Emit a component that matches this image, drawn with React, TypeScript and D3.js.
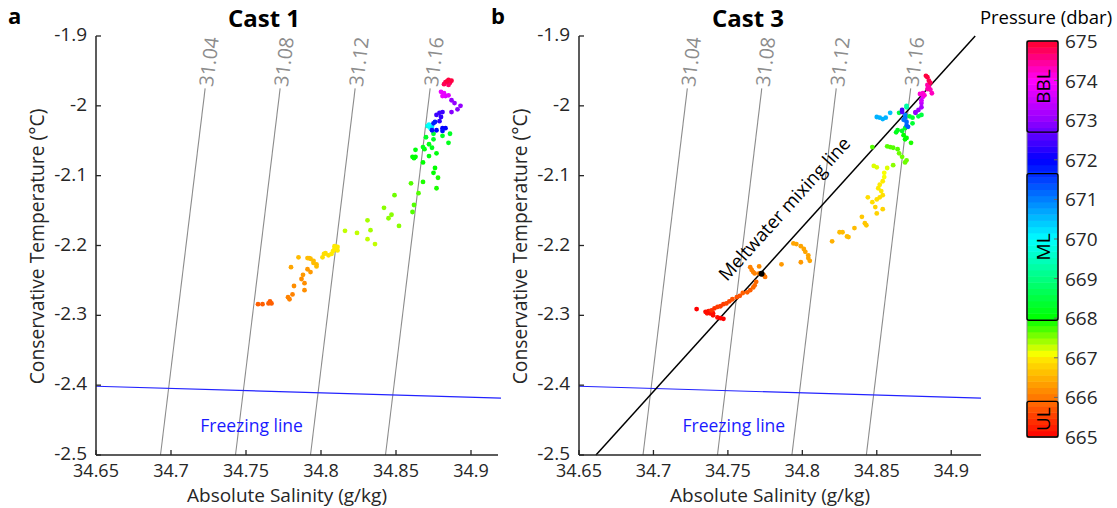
import React from "react";
import * as d3 from "d3";

// axis ticks
const SA_TICKS = [34.65, 34.7, 34.75, 34.8, 34.85, 34.9];
const CT_TICKS = [-1.9, -2, -2.1, -2.2, -2.3, -2.4, -2.5];
const PRESSURE_TICKS = [665, 666, 667, 668, 669, 670, 671, 672, 673, 674, 675];

// isopycnals (sigma labels, SA where each meets -2.5 degC, slope in g/kg per degC)
const SIGMA_LABELS = ["31.04", "31.08", "31.12", "31.16"];
const SIGMA_BASE_SA = [34.693, 34.743, 34.793, 34.843];
const SIGMA_SLOPE = 0.0567;
const SIGMA_TOP_CT = -1.975;

const FREEZING_LINE: [number, number][] = [[34.65, -2.4015], [34.92, -2.4185]];
const MIXING_LINE: [number, number][] = [[34.6614, -2.5], [34.9167, -1.8986]];
const MIXING_POINT: [number, number] = [34.7726, -2.2406];

const LAYERS = [
  { name: "BBL", from: 672.7, to: 675 },
  { name: "ML", from: 667.95, to: 671.65 },
  { name: "UL", from: 665, to: 665.9 },
];

// [SA, CT, pressure]
const CAST1: number[][] = [
  [34.758, -2.284, 665.8], [34.761, -2.284, 665.8], [34.765, -2.283, 665.8], [34.766, -2.28, 665.8], [34.767, -2.283, 665.8],
  [34.778, -2.274, 666.1], [34.779, -2.277, 666.1], [34.781, -2.27, 666.1], [34.782, -2.258, 666.2], [34.787, -2.248, 666.2],
  [34.788, -2.242, 666.3], [34.789, -2.254, 666.2], [34.789, -2.264, 666.2], [34.791, -2.234, 666.3], [34.793, -2.238, 666.3],
  [34.78, -2.231, 666.4],
  [34.785, -2.217, 666.6], [34.791, -2.218, 666.6], [34.792, -2.218, 666.6], [34.793, -2.219, 666.6], [34.795, -2.222, 666.6],
  [34.795, -2.225, 666.6], [34.797, -2.227, 666.6], [34.797, -2.23, 666.6],
  [34.801, -2.217, 666.9], [34.802, -2.212, 666.9], [34.803, -2.211, 666.9], [34.805, -2.214, 666.9], [34.807, -2.212, 667.0],
  [34.808, -2.208, 667.0], [34.809, -2.201, 667.0], [34.81, -2.202, 667.0], [34.811, -2.202, 667.0], [34.811, -2.207, 667.0],
  [34.809, -2.205, 667.0],
  [34.816, -2.179, 667.3], [34.824, -2.182, 667.3], [34.831, -2.191, 667.3], [34.831, -2.164, 667.4], [34.833, -2.178, 667.4],
  [34.836, -2.198, 667.3], [34.842, -2.146, 667.5], [34.845, -2.161, 667.5], [34.847, -2.156, 667.5], [34.849, -2.128, 667.6],
  [34.852, -2.172, 667.5], [34.862, -2.142, 667.7], [34.861, -2.152, 667.7], [34.86, -2.111, 667.7], [34.865, -2.125, 667.7],
  [34.868, -2.109, 667.9], [34.877, -2.118, 667.9], [34.878, -2.103, 667.9], [34.875, -2.096, 668.0], [34.876, -2.089, 668.0],
  [34.868, -2.081, 668.0], [34.872, -2.072, 668.1], [34.877, -2.068, 668.1], [34.861, -2.073, 668.0], [34.862, -2.075, 668.0],
  [34.863, -2.073, 668.0], [34.863, -2.063, 668.1], [34.869, -2.062, 668.1], [34.874, -2.06, 668.2], [34.872, -2.055, 668.2],
  [34.868, -2.059, 668.2], [34.885, -2.053, 668.2], [34.875, -2.048, 668.3], [34.87, -2.045, 668.3], [34.875, -2.04, 668.4],
  [34.881, -2.043, 668.3], [34.886, -2.04, 668.3],
  [34.871, -2.029, 669.8], [34.873, -2.032, 670.0], [34.874, -2.03, 670.2], [34.872, -2.027, 670.0],
  [34.875, -2.025, 671.8], [34.876, -2.023, 671.8], [34.874, -2.035, 671.9], [34.877, -2.035, 672.0], [34.881, -2.032, 672.0],
  [34.883, -2.032, 672.0], [34.881, -2.036, 671.9],
  [34.877, -2.013, 672.4], [34.879, -2.01, 672.4], [34.881, -2.009, 672.4], [34.88, -2.016, 672.3], [34.879, -2.022, 672.3],
  [34.887, -1.992, 673.0], [34.889, -1.996, 673.0], [34.893, -2.0, 673.0], [34.891, -2.005, 672.9], [34.887, -2.009, 672.9],
  [34.88, -1.98, 673.8], [34.882, -1.982, 673.8], [34.883, -1.986, 673.7], [34.885, -1.985, 673.7], [34.881, -1.986, 673.8],
  [34.883, -1.966, 674.8], [34.885, -1.963, 674.9], [34.886, -1.967, 674.8], [34.882, -1.969, 674.8], [34.885, -1.97, 674.7],
  [34.884, -1.965, 674.9], [34.887, -1.964, 674.9],
];

const CAST3: number[][] = [
  [34.729, -2.291, 665.0], [34.737, -2.294, 665.2], [34.736, -2.297, 665.2], [34.735, -2.295, 665.1], [34.738, -2.297, 665.1],
  [34.74, -2.3, 665.1], [34.74, -2.297, 665.1], [34.743, -2.303, 665.1], [34.745, -2.304, 665.0], [34.747, -2.305, 665.0],
  [34.739, -2.293, 665.4], [34.741, -2.29, 665.4], [34.743, -2.288, 665.5], [34.745, -2.287, 665.5], [34.747, -2.284, 665.5],
  [34.749, -2.283, 665.6], [34.751, -2.28, 665.6], [34.753, -2.277, 665.7], [34.756, -2.274, 665.7], [34.758, -2.272, 665.7],
  [34.76, -2.268, 665.8], [34.763, -2.267, 665.8], [34.765, -2.264, 665.8], [34.767, -2.26, 665.9], [34.768, -2.257, 665.9],
  [34.769, -2.252, 665.9],
  [34.765, -2.231, 666.1], [34.766, -2.235, 666.1], [34.767, -2.238, 666.1], [34.771, -2.23, 666.2], [34.768, -2.24, 666.1],
  [34.771, -2.24, 666.1], [34.774, -2.242, 666.0], [34.775, -2.245, 666.0],
  [34.786, -2.227, 666.3], [34.799, -2.224, 666.3],
  [34.794, -2.197, 666.4], [34.796, -2.198, 666.4], [34.799, -2.201, 666.4], [34.801, -2.205, 666.4], [34.802, -2.209, 666.4],
  [34.804, -2.214, 666.4], [34.804, -2.218, 666.4], [34.805, -2.222, 666.4],
  [34.82, -2.194, 666.5], [34.825, -2.181, 666.6], [34.827, -2.181, 666.6], [34.83, -2.187, 666.6], [34.831, -2.188, 666.6],
  [34.835, -2.175, 666.6], [34.84, -2.159, 666.7], [34.842, -2.168, 666.7], [34.843, -2.171, 666.7],
  [34.844, -2.131, 666.9], [34.849, -2.145, 666.8], [34.854, -2.148, 666.8], [34.85, -2.154, 666.8], [34.847, -2.138, 666.9],
  [34.85, -2.134, 666.9], [34.852, -2.131, 666.9], [34.854, -2.128, 666.9], [34.853, -2.122, 667.0], [34.851, -2.118, 667.0],
  [34.852, -2.113, 667.0], [34.854, -2.108, 667.0], [34.855, -2.102, 667.1], [34.855, -2.096, 667.1], [34.857, -2.089, 667.2],
  [34.85, -2.088, 667.2], [34.848, -2.086, 667.2],
  [34.861, -2.085, 667.5], [34.869, -2.081, 667.6], [34.87, -2.078, 667.6], [34.867, -2.073, 667.6], [34.865, -2.068, 667.6],
  [34.864, -2.062, 667.7], [34.861, -2.06, 667.7], [34.859, -2.059, 667.7], [34.857, -2.058, 667.7], [34.847, -2.059, 667.7],
  [34.873, -2.053, 667.9], [34.87, -2.046, 668.0], [34.869, -2.048, 668.0], [34.868, -2.042, 668.0], [34.874, -2.025, 668.4],
  [34.869, -2.032, 668.3], [34.867, -2.036, 668.3], [34.863, -2.038, 668.2], [34.864, -2.035, 668.2], [34.88, -2.013, 668.5],
  [34.878, -2.015, 668.5], [34.874, -2.017, 668.4], [34.872, -2.015, 668.4], [34.865, -2.01, 668.5],
  [34.85, -2.016, 670.6], [34.852, -2.017, 670.6], [34.854, -2.019, 670.6], [34.856, -2.017, 670.6], [34.859, -2.01, 670.5],
  [34.869, -2.013, 671.0], [34.869, -2.017, 671.1], [34.868, -2.02, 671.1], [34.87, -2.023, 671.2], [34.87, -2.028, 671.2],
  [34.871, -2.03, 671.3],
  [34.867, -2.009, 672.6], [34.867, -2.006, 672.5],
  [34.876, -2.01, 672.9], [34.876, -2.009, 673.0], [34.878, -2.006, 673.1], [34.88, -2.002, 673.2], [34.88, -1.996, 673.4],
  [34.88, -1.992, 673.6], [34.881, -1.987, 673.8],
  [34.87, -2.002, 669.3], [34.87, -2.0, 669.3],
  [34.879, -1.983, 674.2], [34.881, -1.982, 674.2], [34.882, -1.985, 674.2], [34.886, -1.977, 674.3], [34.887, -1.982, 674.3],
  [34.884, -1.97, 674.4], [34.885, -1.973, 674.4], [34.884, -1.976, 674.4],
  [34.883, -1.957, 674.9], [34.884, -1.959, 674.9], [34.885, -1.964, 674.8], [34.886, -1.967, 674.8],
];

const FONT = "'Open Sans', sans-serif";
const TEXT = "#262626";
const Y_RANGE: [number, number] = [455, 36];

const hue = d3
  .scaleLinear()
  .domain([665, 666, 667, 668, 670, 672, 673, 674, 675])
  .range([0, 28, 55, 120, 180, 240, 275, 300, 350])
  .clamp(true);
const pressureColor = (p: number) => d3.hsl(hue(p), 1, 0.5).formatHex();

const fmt = (v: number) => String(v);

type PanelProps = {
  letter: string;
  title: string;
  data: number[][];
  left: number;
  right: number;
  saMax: number;
  titleX: number;
  mixing: boolean;
};

function Panel({ letter, title, data, left, right, saMax, titleX, mixing }: PanelProps) {
  const x = d3.scaleLinear().domain([34.65, saMax]).range([left, right]);
  const y = d3.scaleLinear().domain([-2.5, -1.9]).range(Y_RANGE);
  const bottom = Y_RANGE[0];
  const top = Y_RANGE[1];
  const mid = (left + right) / 2;

  const line = d3
    .line<[number, number]>()
    .x((d) => x(d[0]))
    .y((d) => y(d[1]));

  // clip the mixing line to the axes
  const [m0, m1] = MIXING_LINE;
  const mixSlope = (m1[0] - m0[0]) / (m1[1] - m0[1]);
  const mixEnd: [number, number] = [m0[0] + mixSlope * (-1.9 - m0[1]), -1.9];
  const mixAngle =
    (Math.atan2(y(mixEnd[1]) - y(m0[1]), x(mixEnd[0]) - x(m0[0])) * 180) / Math.PI;
  const labelCT = -2.172;
  const labelPos = [x(m0[0] + mixSlope * (labelCT - m0[1])), y(labelCT)];

  return (
    <g fontFamily={FONT}>
      {SIGMA_LABELS.map((lab, i) => {
        const xb = x(SIGMA_BASE_SA[i]);
        const yb = y(-2.5);
        const xt = x(SIGMA_BASE_SA[i] + SIGMA_SLOPE * (SIGMA_TOP_CT + 2.5));
        const yt = y(SIGMA_TOP_CT);
        const ang = (Math.atan2(yt - yb, xt - xb) * 180) / Math.PI;
        return (
          <g key={lab}>
            <line x1={xb} y1={yb} x2={xt} y2={yt} stroke="#8c8c8c" strokeWidth={1.1} />
            <text
              transform={`translate(${xt},${yt}) rotate(${ang})`}
              dx={2}
              dominantBaseline="central"
              fontSize={19.5}
              fill="#8c8c8c"
            >
              {lab}
            </text>
          </g>
        );
      })}

      <path d={line(FREEZING_LINE) || ""} fill="none" stroke="#2222ff" strokeWidth={1.1} />
      <text x={x(34.7195)} y={y(-2.4675)} fontSize={17.5} fill="#1a1aff">
        Freezing line
      </text>

      {mixing && (
        <g>
          <path d={line([m0, mixEnd]) || ""} fill="none" stroke="#000" strokeWidth={1.5} />
          <text
            transform={`translate(${labelPos[0]},${labelPos[1]}) rotate(${mixAngle})`}
            dy={-19}
            textAnchor="middle"
            fontSize={18.5}
            fill="#000"
          >
            Meltwater mixing line
          </text>
        </g>
      )}

      {data.map((d, i) => (
        <circle key={i} cx={x(d[0])} cy={y(d[1])} r={2.4} fill={pressureColor(d[2])} />
      ))}

      {mixing && (
        <circle cx={x(MIXING_POINT[0])} cy={y(MIXING_POINT[1])} r={3} fill="#000" />
      )}

      {/* axes */}
      <line x1={left} y1={bottom} x2={left} y2={top} stroke={TEXT} strokeWidth={1.5} />
      <line x1={left} y1={bottom} x2={right} y2={bottom} stroke={TEXT} strokeWidth={1.5} />
      {CT_TICKS.map((t) => (
        <g key={t}>
          <line x1={left} x2={left + 5} y1={y(t)} y2={y(t)} stroke={TEXT} strokeWidth={1.3} />
          <text
            x={left - 9}
            y={y(t) - 2}
            textAnchor="end"
            dominantBaseline="central"
            fontSize={19}
            fill={TEXT}
          >
            {fmt(t)}
          </text>
        </g>
      ))}
      {SA_TICKS.map((s) => (
        <g key={s}>
          <line x1={x(s)} x2={x(s)} y1={bottom} y2={bottom - 5} stroke={TEXT} strokeWidth={1.3} />
          <text
            x={x(s)}
            y={bottom + 15}
            textAnchor="middle"
            dominantBaseline="central"
            fontSize={18}
            fill={TEXT}
          >
            {fmt(s)}
          </text>
        </g>
      ))}

      <text x={mid - 10} y={502} textAnchor="middle" fontSize={19} fill={TEXT}>
        Absolute Salinity (g/kg)
      </text>
      <text
        transform={`translate(${left - 52},${(top + bottom) / 2 + 1}) rotate(-90)`}
        textAnchor="middle"
        fontSize={19.3}
        fill={TEXT}
      >
        Conservative Temperature (°C)
      </text>

      <text x={titleX} y={27} textAnchor="middle" fontSize={24} fontWeight="bold" fill="#000">
        {title}
      </text>
      <text x={left - 88} y={24} fontSize={22} fontWeight="bold" fill="#000">
        {letter}
      </text>
    </g>
  );
}

function Colorbar() {
  const x0 = 1027;
  const w = 31;
  const c = d3.scaleLinear().domain([665, 675]).range([437, 41]);
  const n = 64;
  const step = 10 / n;
  return (
    <g fontFamily={FONT}>
      {d3.range(n).map((i) => {
        const p0 = 665 + i * step;
        return (
          <rect
            key={i}
            x={x0}
            y={c(p0 + step)}
            width={w}
            height={c(p0) - c(p0 + step) + 0.5}
            fill={pressureColor(p0 + step / 2)}
          />
        );
      })}
      <rect x={x0} y={c(675)} width={w} height={c(665) - c(675)} fill="none" stroke="#8c8c8c" strokeWidth={1} />
      {PRESSURE_TICKS.map((p) => (
        <g key={p}>
          <line x1={x0 + w - 4} x2={x0 + w} y1={c(p)} y2={c(p)} stroke="#666" strokeWidth={1} />
          <text x={x0 + w + 7} y={c(p)} dominantBaseline="central" fontSize={19} fill={TEXT}>
            {p}
          </text>
        </g>
      ))}
      {LAYERS.map((l) => (
        <g key={l.name}>
          <rect
            x={x0}
            y={c(l.to)}
            width={w}
            height={c(l.from) - c(l.to)}
            rx={2}
            fill="none"
            stroke="#000"
            strokeWidth={1.4}
          />
          <text
            transform={`translate(${x0 + w / 2},${(c(l.from) + c(l.to)) / 2}) rotate(-90)`}
            textAnchor="middle"
            dominantBaseline="central"
            fontSize={19}
            fill="#000"
          >
            {l.name}
          </text>
        </g>
      ))}
      <text x={1046} y={24} textAnchor="middle" fontSize={18.5} fill="#000">
        Pressure (dbar)
      </text>
    </g>
  );
}

export default function App() {
  return (
    <svg
      width={1117}
      height={508}
      style={{ position: "absolute", left: 0, top: 0, background: "#fff" }}
    >
      <rect width={1117} height={508} fill="#fff" />
      <Panel letter="a" title="Cast 1" data={CAST1} left={96} right={498} saMax={34.918} titleX={264} mixing={false} />
      <Panel letter="b" title="Cast 3" data={CAST3} left={579} right={981} saMax={34.92} titleX={748} mixing={true} />
      <Colorbar />
    </svg>
  );
}
